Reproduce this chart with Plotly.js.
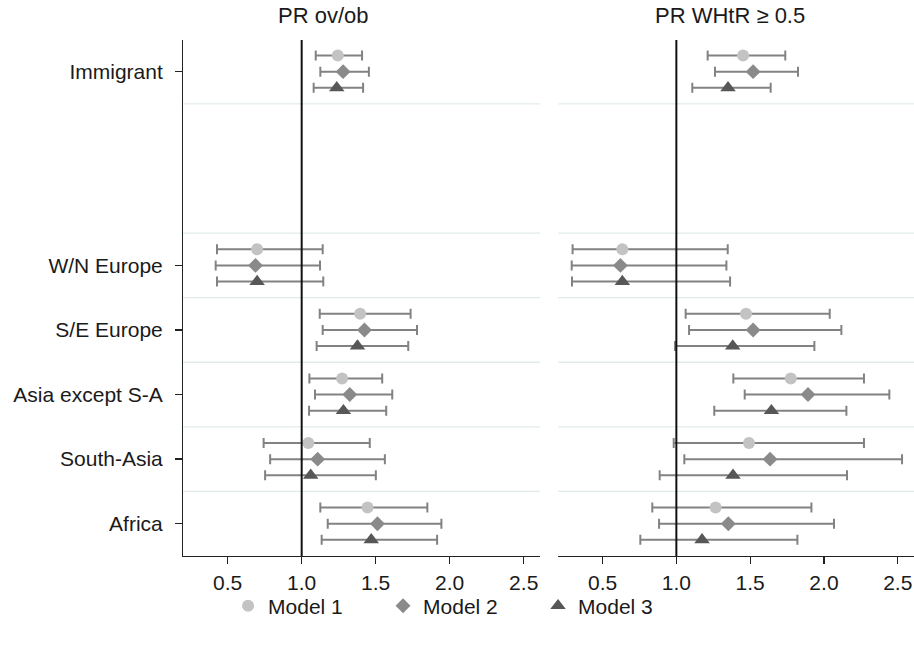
<!DOCTYPE html>
<html>
<head>
<meta charset="utf-8">
<script src="https://cdn.plot.ly/plotly-3.0.1.min.js"></script>
<style>html,body{margin:0;padding:0;background:#fff;}#chart{width:914px;height:645px;}</style>
</head>
<body>
<div id="chart"></div>
<script>
// ---- data ----
var categories = ['Immigrant', 'W/N Europe', 'S/E Europe', 'Asia except S-A', 'South-Asia', 'Africa'];
var rowSlot = [0, 3, 4, 5, 6, 7];          // row slot on the y axis (two empty rows after Immigrant)
var modelNames = ['Model 1', 'Model 2', 'Model 3'];
var panelTitles = ['PR ov/ob', 'PR WHtR \u2265 0.5'];
var xTicks = [0.5, 1.0, 1.5, 2.0, 2.5];
var xTickText = ['0.5', '1.0', '1.5', '2.0', '2.5'];

// Panel 1: PR ov/ob
var ovob_m1_pt = [1.244, 0.699, 1.395, 1.273, 1.045, 1.445];
var ovob_m1_lo = [1.095, 0.428, 1.122, 1.052, 0.743, 1.126];
var ovob_m1_hi = [1.408, 1.142, 1.736, 1.544, 1.460, 1.849];
var ovob_m2_pt = [1.280, 0.688, 1.424, 1.325, 1.108, 1.512];
var ovob_m2_lo = [1.126, 0.419, 1.142, 1.090, 0.787, 1.176];
var ovob_m2_hi = [1.454, 1.124, 1.779, 1.612, 1.562, 1.944];
var ovob_m3_pt = [1.237, 0.699, 1.377, 1.282, 1.061, 1.470];
var ovob_m3_lo = [1.081, 0.428, 1.101, 1.050, 0.753, 1.135];
var ovob_m3_hi = [1.415, 1.146, 1.720, 1.571, 1.501, 1.915];

// Panel 2: PR WHtR >= 0.5
var whtr_m1_pt = [1.452, 0.634, 1.472, 1.775, 1.492, 1.266];
var whtr_m1_lo = [1.212, 0.297, 1.063, 1.386, 0.982, 0.837];
var whtr_m1_hi = [1.738, 1.348, 2.039, 2.271, 2.271, 1.915];
var whtr_m2_pt = [1.520, 0.621, 1.520, 1.892, 1.635, 1.352];
var whtr_m2_lo = [1.262, 0.291, 1.086, 1.463, 1.054, 0.883];
var whtr_m2_hi = [1.824, 1.339, 2.118, 2.443, 2.529, 2.068];
var whtr_m3_pt = [1.350, 0.634, 1.382, 1.644, 1.384, 1.174];
var whtr_m3_lo = [1.108, 0.293, 0.991, 1.257, 0.887, 0.756];
var whtr_m3_hi = [1.639, 1.364, 1.935, 2.152, 2.156, 1.820];

// ---- styles ----
var FONT = '"Liberation Sans", Arial, sans-serif';
var TXT = '#1a1a1a';
var modelStyle = [
  {symbol: 'circle', size: 12, color: '#c3c3c3'},
  {symbol: 'diamond', size: 11.5, color: '#8a8a8a'},
  {symbol: 'triangle-up', size: 13.5, color: '#575757'}
];
var rowOffset = [-0.25, 0, 0.25];

var panels = [
  {xa: 'x', ya: 'y', pts: [ovob_m1_pt, ovob_m2_pt, ovob_m3_pt], los: [ovob_m1_lo, ovob_m2_lo, ovob_m3_lo], his: [ovob_m1_hi, ovob_m2_hi, ovob_m3_hi]},
  {xa: 'x2', ya: 'y2', pts: [whtr_m1_pt, whtr_m2_pt, whtr_m3_pt], los: [whtr_m1_lo, whtr_m2_lo, whtr_m3_lo], his: [whtr_m1_hi, whtr_m2_hi, whtr_m3_hi]}
];

var traces = [];
panels.forEach(function (p, pi) {
  for (var m = 0; m < 3; m++) {
    var pt = p.pts[m], lo = p.los[m], hi = p.his[m];
    traces.push({
      type: 'scatter', mode: 'markers',
      x: pt,
      y: rowSlot.map(function (s) { return s + rowOffset[m]; }),
      xaxis: p.xa, yaxis: p.ya,
      name: modelNames[m],
      legendgroup: modelNames[m],
      showlegend: pi === 0,
      marker: {symbol: modelStyle[m].symbol, size: modelStyle[m].size, color: modelStyle[m].color, line: {width: 0}},
      error_x: {
        type: 'data', symmetric: false,
        array: pt.map(function (v, i) { return hi[i] - v; }),
        arrayminus: pt.map(function (v, i) { return v - lo[i]; }),
        color: '#828282', thickness: 2, width: 5
      },
      hoverinfo: 'x+name'
    });
  }
});

// separator lines between row blocks
var gridY = [];
rowSlot.forEach(function (s, i) {
  [s - 0.5, s + 0.5].forEach(function (g) {
    if (g > rowSlot[0] - 0.5 && g < rowSlot[rowSlot.length - 1] + 0.5 && gridY.indexOf(g) < 0) gridY.push(g);
  });
});
var shapes = [];
['x', 'x2'].forEach(function (xa, k) {
  var ya = k === 0 ? 'y' : 'y2';
  gridY.forEach(function (g) {
    shapes.push({type: 'line', xref: xa + ' domain', yref: ya, x0: 0, x1: 1, y0: g, y1: g,
      line: {color: '#e2ebeb', width: 1.3}, layer: 'below'});
  });
  shapes.push({type: 'line', xref: xa, yref: ya + ' domain', x0: 1, x1: 1, y0: 0, y1: 1,
    line: {color: '#111', width: 2}, layer: 'above'});
});

var yRange = [rowSlot[rowSlot.length - 1] + 0.5, rowSlot[0] - 0.49];
var xRange = [0.2, 2.61];

var xCommon = {
  range: xRange, tickmode: 'array', tickvals: xTicks, ticktext: xTickText,
  showgrid: false, zeroline: false, showline: true, linecolor: '#222', linewidth: 1.3,
  ticks: 'outside', ticklen: 7, tickwidth: 1.3, tickcolor: '#222',
  tickfont: {family: FONT, size: 21, color: TXT}
};

var layout = {
  width: 914, height: 645,
  margin: {l: 0, r: 0, t: 40, b: 89},
  paper_bgcolor: '#fff', plot_bgcolor: '#fff',
  font: {family: FONT, color: TXT},
  showlegend: true,
  xaxis: Object.assign({}, xCommon, {domain: [0.2005, 0.5908], anchor: 'y'}),
  xaxis2: Object.assign({}, xCommon, {domain: [0.6108, 1.0], anchor: 'y2'}),
  yaxis: {
    domain: [0, 1], range: yRange, anchor: 'x',
    tickmode: 'array', tickvals: rowSlot, ticktext: categories,
    showgrid: false, zeroline: false, showline: true, linecolor: '#222', linewidth: 1.3,
    ticks: 'outside', ticklen: 7, tickwidth: 1.3, tickcolor: '#222',
    ticklabelstandoff: 8,
    tickfont: {family: FONT, size: 21, color: TXT}
  },
  yaxis2: {
    domain: [0, 1], range: yRange, anchor: 'x2',
    showticklabels: false, showgrid: false, zeroline: false, showline: false, ticks: ''
  },
  legend: {
    orientation: 'h', x: 0.2495, xanchor: 'left', y: -0.097, yanchor: 'middle',
    entrywidth: 110, entrywidthmode: 'pixels',
    font: {family: FONT, size: 21, color: TXT},
    bgcolor: 'rgba(0,0,0,0)'
  },
  annotations: [
    {text: panelTitles[0], xref: 'paper', yref: 'paper', x: 0.3534, y: 1.0484, xanchor: 'center', yanchor: 'middle',
      showarrow: false, font: {family: FONT, size: 22, color: TXT}},
    {text: panelTitles[1], xref: 'paper', yref: 'paper', x: 0.7992, y: 1.0484, xanchor: 'center', yanchor: 'middle',
      showarrow: false, font: {family: FONT, size: 22, color: TXT}}
  ],
  shapes: shapes
};

Plotly.newPlot('chart', traces, layout, {displayModeBar: false, staticPlot: true});
</script>
</body>
</html>
